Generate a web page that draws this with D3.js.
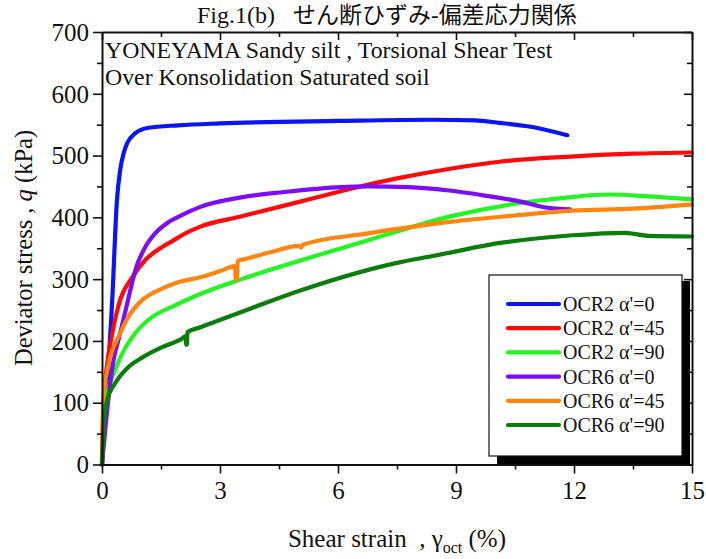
<!DOCTYPE html>
<html>
<head>
<meta charset="utf-8">
<script src="https://cdn.jsdelivr.net/npm/d3@7/dist/d3.min.js"></script>
<style>
  html, body { margin: 0; padding: 0; background: #fff; }
  svg { display: block; }
  text { font-family: "Liberation Serif", "Noto Sans CJK JP", serif; fill: #111; }
</style>
</head>
<body>
<svg id="chart" width="706" height="559"></svg>
<script>
// Shear strain (%) vs deviator stress (kPa) for each test
const ocr2a0 = [[0,0],[0.1,100],[0.26,266],[0.38,428],[0.46,476],[0.56,506],[0.64,520],[0.84,536],[1.18,545],[1.94,549],[3,552],[6,556],[8.4,558],[9.48,557],[10.1,553],[10.86,547],[11.83,533]];
const ocr2a45 = [[0,0],[0.04,100],[0.12,157],[0.26,212],[0.46,266],[0.77,303],[1.1,331],[1.53,352],[1.8,362],[2.12,374],[2.5,385],[3.5,401],[4.63,419],[5.5,433],[6.3,446],[7.5,463],[8.89,479],[10.1,490],[11.8,498],[13.5,503],[15,505]];
const ocr2a90 = [[0,0],[0.03,60],[0.1,104],[0.36,157],[0.84,212],[1.18,234],[1.87,258],[2.5,276],[3.45,298],[4.63,322],[6.77,363],[8.89,402],[10.5,422],[11.8,432],[12.9,437],[13.9,434],[15,429]];
const ocr6a0 = [[0,0],[0.08,55],[0.28,164],[0.46,212],[0.66,266],[0.87,319],[1.1,352],[1.35,374],[1.66,391],[2.04,404],[2.5,417],[3.5,432],[4.63,441],[6.08,449],[6.77,450],[7.79,449],[8.89,443],[9.66,436],[10.68,425],[11.27,416],[11.9,413]];
const ocr6a45 = [[0,0],[0.03,104],[0.15,157],[0.46,212],[0.66,238],[1.02,266],[1.43,282],[1.94,295],[2.5,303],[3.0,313],[3.38,321],[3.40,299],[3.43,299],[3.45,330],[3.6,332],[4.3,344],[5.0,354],[5.06,351],[5.12,356],[6.77,374],[8.89,393],[10.5,403],[11.96,411],[13.5,414],[15,421]];
const ocr6a90 = [[0,0],[0.03,50],[0.13,104],[0.33,131],[0.66,157],[1.02,173],[1.53,190],[2.04,204],[2.13,208],[2.14,194],[2.16,194],[2.17,214],[2.5,222],[3.8,253],[5.06,282],[7.62,328],[8.38,337],[10.17,359],[11.96,371],[13.3,375],[13.9,370],[15,369]];

const seriesNames = ["OCR2 α'=0","OCR2 α'=45","OCR2 α'=90","OCR6 α'=0","OCR6 α'=45","OCR6 α'=90"];
const seriesColors = ["#0a14f5","#ff0a0a","#22f522","#7d0cf7","#ff850e","#0b7d0b"];
const seriesData = [ocr2a0, ocr2a45, ocr2a90, ocr6a0, ocr6a45, ocr6a90];

const xTicks = [0,3,6,9,12,15];
const yTicks = [0,100,200,300,400,500,600,700];

const titleParts = ["Fig.1(b)", "せん断ひずみ-偏差応力関係"];
const noteLines = ["YONEYAMA Sandy silt , Torsional Shear Test", "Over Konsolidation Saturated soil"];

const svg = d3.select("#chart");
const plotL = 102, plotR = 692, plotT = 32, plotB = 464.5;

const x = d3.scaleLinear().domain([0, 15]).range([plotL, plotR]);
const y = d3.scaleLinear().domain([0, 700]).range([plotB, plotT]);

// curves
const line = d3.line().x(d => x(d[0])).y(d => y(d[1])).curve(d3.curveMonotoneX);
const gCurves = svg.append("g");
seriesData.forEach((s, i) => {
  gCurves.append("path").attr("d", line(s)).attr("fill", "none")
    .attr("stroke", seriesColors[i]).attr("stroke-width", 4.2)
    .attr("stroke-linecap", "round").attr("stroke-linejoin", "round");
});

// axes: major ticks labelled, minor ticks between
const minorX = d3.range(1.5, 15, 3);
const minorY = d3.range(50, 700, 100);
function styleAxis(g) {
  g.select(".domain").attr("stroke", "#111").attr("stroke-width", 2);
  g.selectAll(".tick line").attr("stroke", "#111").attr("stroke-width", 1.6);
}
const bottomAxis = svg.append("g").attr("transform", `translate(0,${plotB})`)
  .call(d3.axisBottom(x).tickValues(xTicks).tickSize(9).tickSizeOuter(0).tickPadding(4).tickFormat(d3.format("d")));
bottomAxis.call(styleAxis);
bottomAxis.selectAll("text").attr("font-size", 25).attr("dy", "0.85em");
svg.append("g").attr("transform", `translate(0,${plotB})`)
  .call(d3.axisBottom(x).tickValues(minorX).tickSize(5).tickFormat("")).call(styleAxis)
  .select(".domain").remove();

const leftAxis = svg.append("g").attr("transform", `translate(${plotL},0)`)
  .call(d3.axisLeft(y).tickValues(yTicks).tickSize(9).tickSizeOuter(0).tickPadding(4));
leftAxis.call(styleAxis);
leftAxis.selectAll("text").attr("font-size", 25).attr("dy", "0.33em");
svg.append("g").attr("transform", `translate(${plotL},0)`)
  .call(d3.axisLeft(y).tickValues(minorY).tickSize(5).tickFormat("")).call(styleAxis)
  .select(".domain").remove();

const topAxis = svg.append("g").attr("transform", `translate(0,${plotT})`)
  .call(d3.axisBottom(x).tickValues(xTicks).tickSize(8).tickSizeOuter(0).tickFormat(""));
topAxis.call(styleAxis);
svg.append("g").attr("transform", `translate(0,${plotT})`)
  .call(d3.axisBottom(x).tickValues(minorX).tickSize(5).tickFormat("")).call(styleAxis)
  .select(".domain").remove();

const rightAxis = svg.append("g").attr("transform", `translate(${plotR},0)`)
  .call(d3.axisLeft(y).tickValues(yTicks).tickSize(8).tickSizeOuter(0).tickFormat(""));
rightAxis.call(styleAxis);
svg.append("g").attr("transform", `translate(${plotR},0)`)
  .call(d3.axisLeft(y).tickValues(minorY).tickSize(5).tickFormat("")).call(styleAxis)
  .select(".domain").remove();

// title and notes
const title = svg.append("text").attr("x", 197).attr("y", 23).attr("font-size", 24);
title.append("tspan").text(titleParts[0]);
title.append("tspan").attr("dx", 18).attr("font-size", 23).text(titleParts[1]);
noteLines.forEach((t, i) => {
  svg.append("text").attr("x", 105).attr("y", 58 + i * 27).attr("font-size", 23.8).text(t);
});

// axis titles
const yl = svg.append("text").attr("transform", "translate(32,248) rotate(-90)")
  .attr("text-anchor", "middle").attr("font-size", 24.5);
yl.append("tspan").text("Deviator stress , ");
yl.append("tspan").attr("font-style", "italic").text("q");
yl.append("tspan").text(" (kPa)");

const xl = svg.append("text").attr("x", 397).attr("y", 547).attr("text-anchor", "middle")
  .attr("font-size", 25).attr("xml:space", "preserve");
xl.append("tspan").text("Shear strain  , γ");
xl.append("tspan").attr("font-size", 16).attr("dy", 6).text("oct");
xl.append("tspan").attr("dy", -6).text(" (%)");

// legend with drop shadow
const lg = svg.append("g");
lg.append("rect").attr("x", 497).attr("y", 281).attr("width", 193).attr("height", 183).attr("fill", "#000");
lg.append("rect").attr("x", 489).attr("y", 275).attr("width", 193).attr("height", 181)
  .attr("fill", "#fff").attr("stroke", "#111").attr("stroke-width", 1.2);
seriesNames.forEach((n, i) => {
  const yy = 304 + i * 24.2;
  lg.append("line").attr("x1", 508).attr("x2", 559).attr("y1", yy).attr("y2", yy)
    .attr("stroke", seriesColors[i]).attr("stroke-width", 4.2).attr("stroke-linecap", "round");
  lg.append("text").attr("x", 563).attr("y", yy).attr("dy", "0.35em").attr("font-size", 20).text(n);
});
</script>
</body>
</html>
